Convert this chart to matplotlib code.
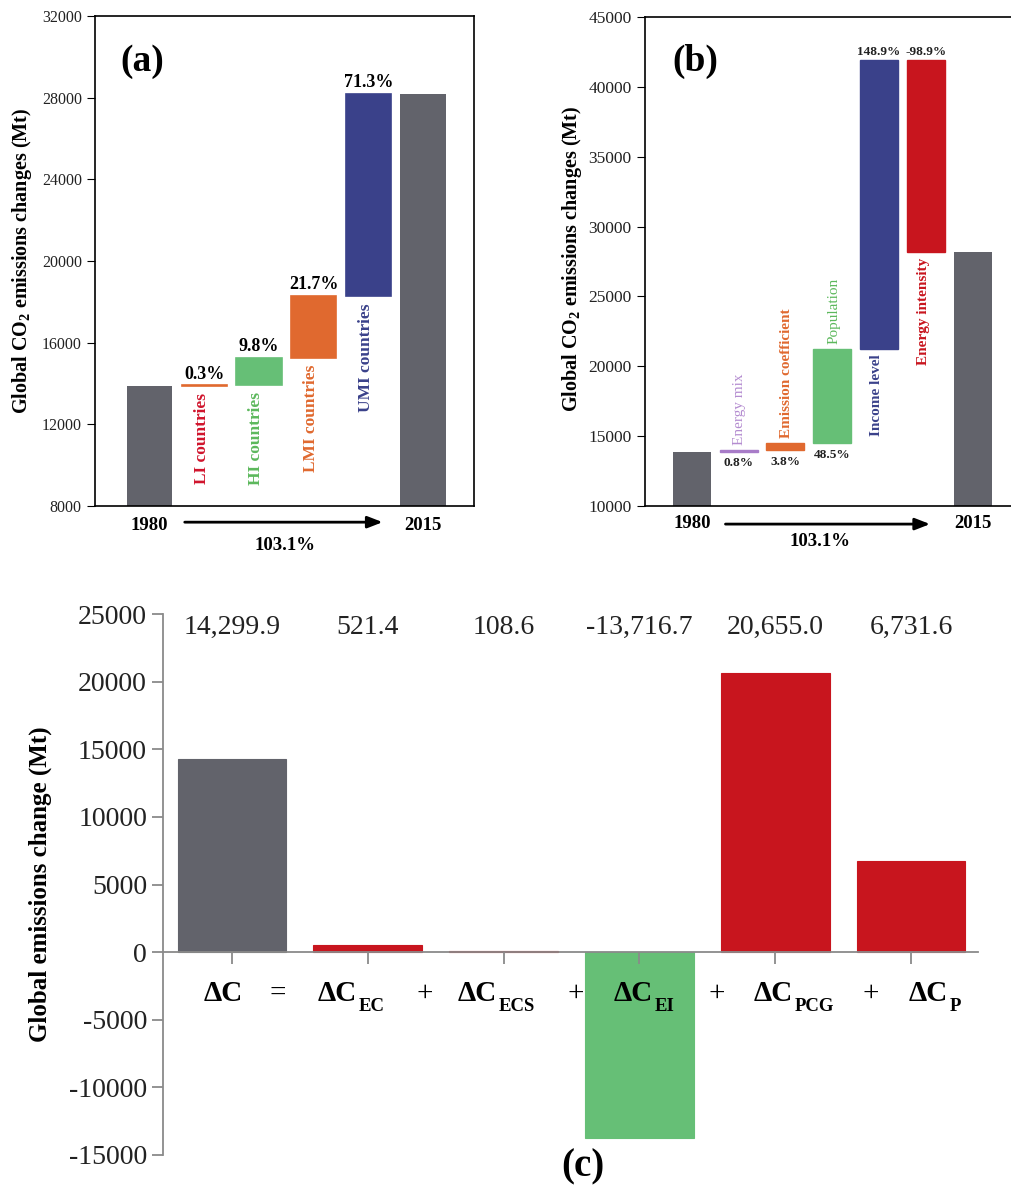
import matplotlib
matplotlib.use('Agg')
import matplotlib.pyplot as plt
import matplotlib.transforms as mtransforms
import numpy as np

plt.rcParams['font.family'] = ['Liberation Serif', 'DejaVu Serif']
plt.rcParams['mathtext.fontset'] = 'custom'
plt.rcParams['mathtext.rm'] = 'Liberation Serif'
plt.rcParams['mathtext.bf'] = 'Liberation Serif:bold'
plt.rcParams['mathtext.it'] = 'Liberation Serif:italic'
plt.rcParams['axes.unicode_minus'] = False

# ---- data ----
years = ['1980', '2015']
base_1980 = 13870.0
total_change = '103.1%'

a_groups = ['LI countries', 'HI countries', 'LMI countries', 'UMI countries']
a_changes = [41.6, 1359.3, 3009.8, 9889.2]
a_pct = ['0.3%', '9.8%', '21.7%', '71.3%']

b_factors = ['Energy mix', 'Emission coefficient', 'Population', 'Income level', 'Energy intensity']
b_changes = [108.6, 521.4, 6731.6, 20655.0, -13716.7]
b_pct = ['0.8%', '3.8%', '48.5%', '148.9%', '-98.9%']

c_values = [14299.9, 521.4, 108.6, -13716.7, 20655.0, 6731.6]
c_value_labels = ['14,299.9', '521.4', '108.6', '-13,716.7', '20,655.0', '6,731.6']
c_subs = ['', 'EC', 'ECS', 'EI', 'PCG', 'P']
c_ops = ['=', '+', '+', '+', '+']

# ---- styles ----
gray = '#62636b'
orange = '#e0692f'
green = '#66bf76'
blue = '#3a418a'
red = '#c8151e'
purple = '#a87cc8'

a_bar_colors = [orange, green, orange, blue]
a_text_colors = ['#d0142c', '#5cb85c', orange, blue]
b_bar_colors = [purple, orange, green, blue, red]
b_text_colors = ['#b48cd0', orange, '#5cb85c', blue, red]
b_weights = ['normal', 'bold', 'normal', 'bold', 'bold']
b_name_above = [True, True, True, False, False]
c_colors = [gray, red, red, green, red, red]

fig = plt.figure(figsize=(10.11, 11.9), dpi=100)

# ================= (a) =================
ax = fig.add_axes([95/1011, 1-506/1190, 379/1011, 490/1190])
w = 0.83
n = len(a_changes)
ax.bar(0, base_1980, width=w, color=gray)
bottoms = base_1980 + np.concatenate([[0], np.cumsum(a_changes)[:-1]])
for i in range(n):
    ax.bar(i+1, a_changes[i], bottom=bottoms[i], width=w, color=a_bar_colors[i],
           edgecolor=a_bar_colors[i], linewidth=1.2)
    ax.annotate(a_pct[i], (i+1, bottoms[i]+a_changes[i]), xytext=(0, 2),
                textcoords='offset points', ha='center', va='bottom',
                fontsize=13, fontweight='bold')
    ax.annotate(a_groups[i], (i+1, bottoms[i]), xytext=(-2, -5),
                textcoords='offset points', ha='center', va='top', rotation=90,
                fontsize=12.5, fontweight='bold', color=a_text_colors[i])
ax.bar(n+1, base_1980+sum(a_changes), width=w, color=gray)
ax.set_xlim(-1.0, 5.93)
ax.set_ylim(8000, 32000)
ax.set_yticks(np.arange(8000, 32001, 4000))
ax.set_xticks([])
ax.tick_params(axis='y', direction='out', length=6, labelsize=11.5, labelcolor='#222')
for s in ax.spines.values():
    s.set_linewidth(1.2)
tr = mtransforms.blended_transform_factory(ax.transData, ax.transAxes)
ax.text(0, -0.039, years[0], transform=tr, ha='center', va='center', fontsize=13.5, fontweight='bold')
ax.text(n+1, -0.039, years[1], transform=tr, ha='center', va='center', fontsize=13.5, fontweight='bold')
ax.annotate('', xy=(4.31, -0.033), xytext=(0.59, -0.033), xycoords=tr, textcoords=tr,
            arrowprops=dict(arrowstyle='-|>,head_length=0.9,head_width=0.35', color='black', lw=2))
ax.text(2.48, -0.080, total_change, transform=tr, ha='center', va='center', fontsize=13.5, fontweight='bold')
ax.text(0.066, 0.908, '(a)', transform=ax.transAxes, ha='left', va='center', fontsize=27, fontweight='bold')
fig.text(22/1011, 1-261/1190, r'Global CO$_\mathbf{2}$ emissions changes (Mt)', rotation=90,
         ha='center', va='center', fontsize=14.5, fontweight='bold')

# ================= (b) =================
ax = fig.add_axes([645/1011, 1-506/1190, 366/1011, 489/1190])
w = 0.81
n = len(b_changes)
ax.bar(0, base_1980, width=w, color=gray)
bottoms = base_1980 + np.concatenate([[0], np.cumsum(b_changes)[:-1]])
for i in range(n):
    lo = min(bottoms[i], bottoms[i]+b_changes[i])
    hi = max(bottoms[i], bottoms[i]+b_changes[i])
    ax.bar(i+1, b_changes[i], bottom=bottoms[i], width=w, color=b_bar_colors[i],
           edgecolor=b_bar_colors[i], linewidth=1.0)
    if b_name_above[i]:
        ax.annotate(b_factors[i], (i+1, hi), xytext=(1, 4), textcoords='offset points',
                    ha='center', va='bottom', rotation=90, fontsize=11,
                    fontweight=b_weights[i], color=b_text_colors[i])
        ax.annotate(b_pct[i], (i+1, lo), xytext=(0, -4), textcoords='offset points',
                    ha='center', va='top', fontsize=9.5, fontweight='bold', color='#222')
    else:
        ax.annotate(b_factors[i], (i+1, lo), xytext=(-2, -4), textcoords='offset points',
                    ha='center', va='top', rotation=90, fontsize=11,
                    fontweight=b_weights[i], color=b_text_colors[i])
        ax.annotate(b_pct[i], (i+1, hi), xytext=(0, 2), textcoords='offset points',
                    ha='center', va='bottom', fontsize=9.5, fontweight='bold', color='#222')
ax.bar(n+1, base_1980+sum(b_changes), width=w, color=gray)
ax.set_xlim(-1.0, 6.82)
ax.set_ylim(10000, 45000)
ax.set_yticks(np.arange(10000, 45001, 5000))
ax.set_xticks([])
ax.tick_params(axis='y', direction='out', length=6, labelsize=12.5, labelcolor='#222')
for s in ax.spines.values():
    s.set_linewidth(1.2)
ax.spines['right'].set_visible(False)
tr = mtransforms.blended_transform_factory(ax.transData, ax.transAxes)
ax.text(0, -0.035, years[0], transform=tr, ha='center', va='center', fontsize=13.5, fontweight='bold')
ax.text(n+1, -0.035, years[1], transform=tr, ha='center', va='center', fontsize=13.5, fontweight='bold')
ax.annotate('', xy=(5.15, -0.037), xytext=(0.66, -0.037), xycoords=tr, textcoords=tr,
            arrowprops=dict(arrowstyle='-|>,head_length=0.9,head_width=0.35', color='black', lw=2))
ax.text(2.74, -0.072, total_change, transform=tr, ha='center', va='center', fontsize=13.5, fontweight='bold')
ax.text(0.074, 0.91, '(b)', transform=ax.transAxes, ha='left', va='center', fontsize=27, fontweight='bold')
fig.text(572/1011, 1-259/1190, r'Global CO$_\mathbf{2}$ emissions changes (Mt)', rotation=90,
         ha='center', va='center', fontsize=14.5, fontweight='bold')

# ================= (c) =================
ax = fig.add_axes([163/1011, 1-1155/1190, 815/1011, 541/1190])
x = np.arange(len(c_values))
ax.bar(x, c_values, width=0.8, color=c_colors, edgecolor=c_colors, linewidth=0.8)
ax.set_xlim(-0.508, 5.493)
ax.set_ylim(-15000, 25000)
ax.set_yticks(np.arange(-15000, 25001, 5000))
ax.set_xticks(x)
ax.set_xticklabels([])
for s in ['top', 'right']:
    ax.spines[s].set_visible(False)
ax.spines['bottom'].set_position(('data', 0))
for s in ['left', 'bottom']:
    ax.spines[s].set_color('#8a8a8a')
    ax.spines[s].set_linewidth(1.3)
ax.tick_params(axis='y', direction='out', length=8, width=1.3, color='#8a8a8a',
               labelsize=20, labelcolor='#222')
ax.tick_params(axis='x', direction='out', length=8.5, width=1.3, color='#8a8a8a')
for i in range(len(c_values)):
    ax.text(x[i], 24000, c_value_labels[i], ha='center', va='center', fontsize=20, color='#222')

# equation under the bars: right edge of each "ΔC", then its subscript
term_right = [0.081, -0.080, -0.05, 0.10, 0.13, 0.27]
op_x = [0.34, 1.42, 2.53, 3.57, 4.70]
eq_y = -3620
for i in range(len(c_subs)):
    ax.text(x[i] + term_right[i], eq_y, 'ΔC', ha='right', va='baseline',
            fontsize=21, fontweight='bold')
    if c_subs[i]:
        ax.annotate(c_subs[i], (x[i] + term_right[i], eq_y), xytext=(1.5, -7),
                    textcoords='offset points', ha='left', va='baseline',
                    fontsize=13.5, fontweight='bold')
for i in range(len(c_ops)):
    ax.text(op_x[i], eq_y, c_ops[i], ha='center', va='baseline', fontsize=21)
fig.text(40/1011, 1-884/1190, 'Global emissions change (Mt)', rotation=90,
         ha='center', va='center', fontsize=18, fontweight='bold')
fig.text(583/1011, 1-1167/1190, '(c)', ha='center', va='center', fontsize=28, fontweight='bold')

fig.savefig('out.png', dpi=100)
